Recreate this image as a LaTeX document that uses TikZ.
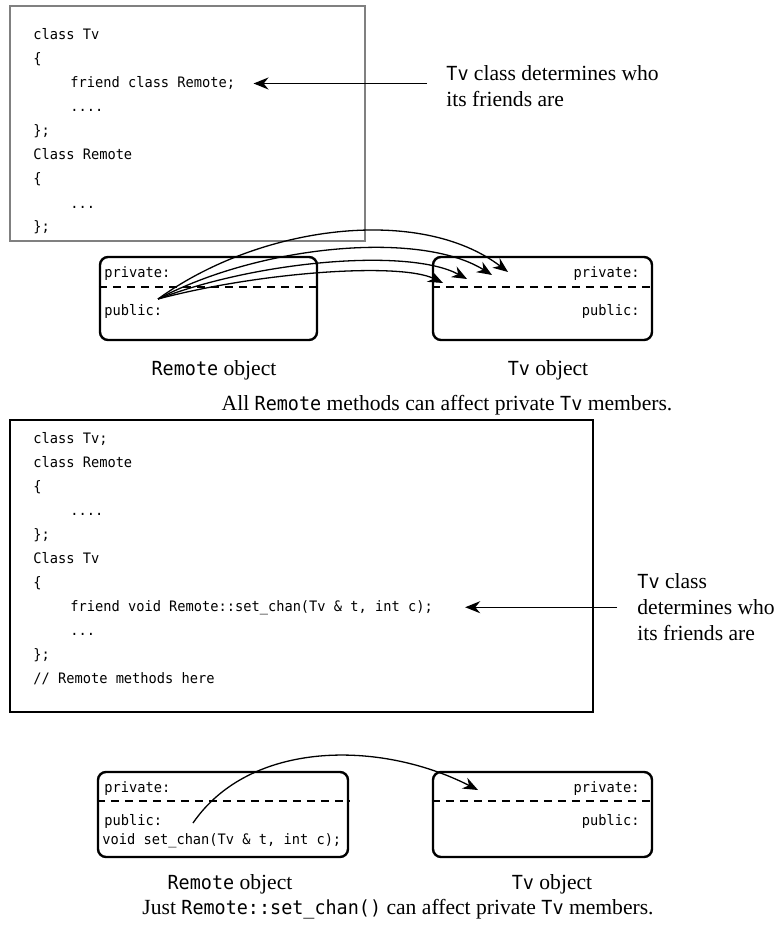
\documentclass[tikz,border=0pt]{standalone}
\usepackage{fontspec}
\setmainfont{Liberation Serif}
\newfontfamily\codefont[FakeStretch=0.95]{DejaVu Sans Mono}
\usetikzlibrary{arrows.meta, calc, positioning}

\newcommand{\cw}[1]{{\codefont\fontsize{9.7}{11}\selectfont #1}} % code word in running text

\begin{document}
\begin{tikzpicture}[
		x=0.5pt, y=-0.5pt,
		>={Stealth[length=7.5pt, width=6pt]},
		code/.style={anchor=base west, inner sep=0pt, font=\codefont\fontsize{7.2}{8}\selectfont},
		codeR/.style={code, anchor=base east},
		note/.style={align=left, inner sep=0pt, font=\fontsize{10.8}{13}\selectfont},
		listing/.style={draw, line width=1pt, inner sep=0pt},
		objbox/.style={draw, line width=1.2pt, rounded corners=4pt, inner sep=0pt},
		divider/.style={line width=1pt, dash pattern=on 4pt off 3pt},
		link/.style={->, line width=0.65pt}
	]
	\useasboundingbox (0,0) rectangle (778,925);

	% ---- friend class ----
	\node[listing, draw=gray, minimum width=177.5pt, minimum height=117.5pt] (list1) at (187.5,123.5) {};
	\node[code] (a1) at (33,40) {class Tv};
	\node[code] (a2) at (33,64) {\{};
	\node[code] (a3) at (70,88) {friend class Remote;};
	\node[code] (a4) at (70,112) {....};
	\node[code] (a5) at (33,136) {\};};
	\node[code] (a6) at (33,160) {Class Remote};
	\node[code] (a7) at (33,184) {\{};
	\node[code] (a8) at (70,208) {...};
	\node[code] (a9) at (33,232) {\};};

	\node[note, anchor=west] (note1) at (446,86) {\cw{Tv} class determines who\\its friends are};
	\coordinate (tail1) at ([xshift=-9.5pt]note1.west);
	\draw[link] (tail1 |- a3) -- ([xshift=9pt]a3.east);

	\node[objbox, minimum width=108.5pt, minimum height=41.5pt] (rem1) at (208.5,298.5) {};
	\draw[divider] ($(rem1.north west)!0.36!(rem1.south west)$) -- ($(rem1.north east)!0.36!(rem1.south east)$);
	\node[code] (rpriv1) at (104,277) {private:};
	\node[code] (rpub1) at (104,315) {public:};

	\node[objbox, minimum width=109.5pt, minimum height=41.5pt] (tv1) at (542.5,298.5) {};
	\draw[divider] ($(tv1.north west)!0.36!(tv1.south west)$) -- ($(tv1.north east)!0.36!(tv1.south east)$);
	\node[codeR] (tpriv1) at (640,277) {private:};
	\node[codeR] (tpub1) at (640,315) {public:};

	% every Remote method reaches the private part
	\coordinate (src1) at (158,299);
	\coordinate (dst1) at (508,272);
	\coordinate (dst2) at (492,275);
	\coordinate (dst3) at (467,279);
	\coordinate (dst4) at (443,283);
	\draw[link] (src1) .. controls (260,225) and (420,205) .. (dst1);
	\draw[link] (src1) .. controls (260,245) and (420,230) .. (dst2);
	\draw[link] (src1) .. controls (260,260) and (410,248) .. (dst3);
	\draw[link] (src1) .. controls (260,272) and (400,262) .. (dst4);

	\node[note, anchor=base] (rname1) at (214,375) {\cw{Remote} object};
	\node[note, anchor=base] (tname1) at (548,375) {\cw{Tv} object};
	\node[note, anchor=base] (cap1) at (447,410) {All \cw{Remote} methods can affect private \cw{Tv} members.};

	% ---- friend member function ----
	\node[listing, minimum width=291.5pt, minimum height=146pt] (list2) at (301.5,566) {};
	\node[code] (b1) at (33,443) {class Tv;};
	\node[code] (b2) at (33,467) {class Remote};
	\node[code] (b3) at (33,491) {\{};
	\node[code] (b4) at (70,515) {....};
	\node[code] (b5) at (33,539) {\};};
	\node[code] (b6) at (33,563) {Class Tv};
	\node[code] (b7) at (33,587) {\{};
	\node[code] (b8) at (70,611) {friend void Remote::set\_chan(Tv \& t, int c);};
	\node[code] (b9) at (70,635) {...};
	\node[code] (b10) at (33,659) {\};};
	\node[code] (b11) at (33,683) {// Remote methods here};

	\node[note, anchor=west] (note2) at (637,607) {\cw{Tv} class\\determines who\\its friends are};
	\coordinate (tail2) at ([xshift=-10pt]note2.west);
	\draw[link] (tail2 |- b8) -- ([xshift=16pt]b8.east);

	\node[objbox, minimum width=125pt, minimum height=42.5pt] (rem2) at (223,814.5) {};
	\draw[divider] ($(rem2.north west)!0.35!(rem2.south west)$) -- ($(rem2.north east)!0.35!(rem2.south east)$);
	\node[code] (rpriv2) at (104,792) {private:};
	\node[code] (rpub2) at (104,825) {public:};
	\node[code] (rset2) at (102,844) {void set\_chan(Tv \& t, int c);};

	\node[objbox, minimum width=109.5pt, minimum height=42.5pt] (tv2) at (542.5,814.5) {};
	\draw[divider] ($(tv2.north west)!0.35!(tv2.south west)$) -- ($(tv2.north east)!0.35!(tv2.south east)$);
	\node[codeR] (tpriv2) at (640,792) {private:};
	\node[codeR] (tpub2) at (640,825) {public:};

	\coordinate (src2) at (193,823);
	\coordinate (dst5) at (478,790);
	\draw[link] (src2) .. controls (250,740) and (380,740) .. (dst5);

	\node[note, anchor=base] (rname2) at (230,889) {\cw{Remote} object};
	\node[note, anchor=base] (tname2) at (552,889) {\cw{Tv} object};
	\node[note, anchor=base] (cap2) at (398,914) {Just \cw{Remote::set\_chan()} can affect private \cw{Tv} members.};
\end{tikzpicture}
\end{document}
